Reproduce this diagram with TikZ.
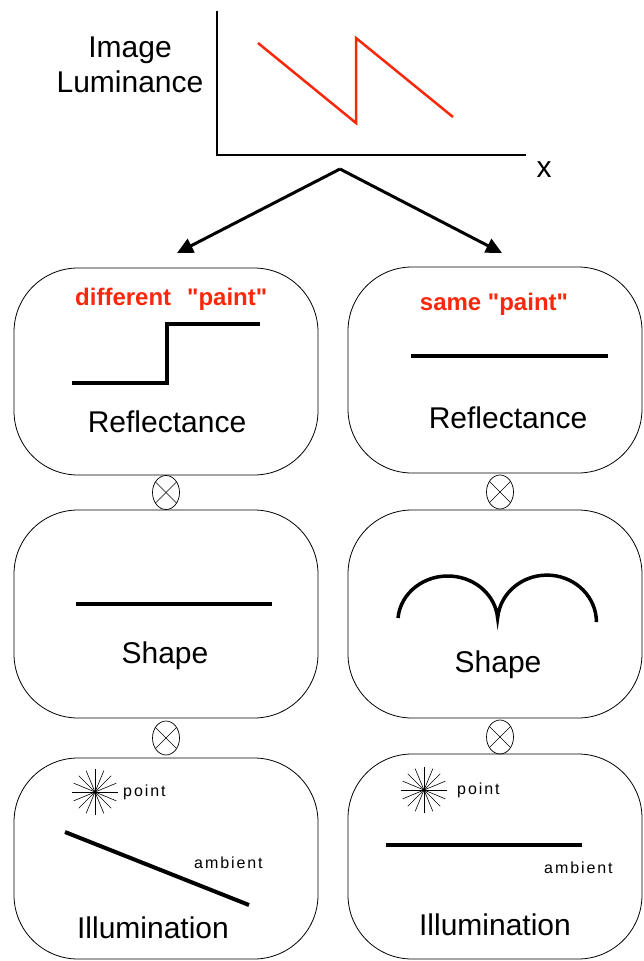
\documentclass[tikz,border=0pt]{standalone}
\usepackage{fontspec}
\setmainfont{Liberation Sans}
\newfontfamily\spacedfont[LetterSpace=12]{Liberation Sans}
\newfontfamily\redfont[Ligatures=TeXOff]{Liberation Sans}
\usetikzlibrary{shapes.geometric,arrows.meta}
\definecolor{paintred}{RGB}{250,40,10}
\begin{document}
\begin{tikzpicture}[x=1pt,y=-1pt,
  rbox/.style={draw, line width=0.8pt, rounded corners=64pt, inner sep=0pt},
  lbl/.style={font=\fontsize{30}{36}\selectfont, anchor=base, inner sep=0pt},
  redlbl/.style={font=\redfont\bfseries\fontsize{24}{28}\selectfont, text=paintred, anchor=base, inner sep=0pt},
  smalllbl/.style={font=\spacedfont\fontsize{16}{18}\selectfont, anchor=base west, inner sep=0pt},
  bar/.style={line width=4pt},
  otimesnode/.style={ellipse, draw, line width=0.7pt, minimum width=27pt, minimum height=34pt, inner sep=0pt},
  xline/.style={line width=0.6pt},
  splitarrow/.style={line width=3pt, -{Triangle[length=16pt,width=15pt]}},
  ray/.style={line width=0.6pt}]
\useasboundingbox (0,0) rectangle (644,961);

% --- luminance plot
\draw[line width=1.5pt] (217,11) -- (217,155) -- (526,155);
\draw[paintred, line width=2.5pt, line join=miter] (258,43) -- (356,123) -- (356,38) -- (453,117);
\node[lbl] (image) at (130,57) {Image};
\node[lbl] (lum) at (130,92) {Luminance};
\node[lbl] (xlab) at (544,177) {x};

% --- split arrows
\coordinate (apex) at (340,169);
\coordinate (tipL) at (177,253);
\coordinate (tipR) at (502,253);
\draw[splitarrow] (apex) -- (tipL);
\draw[splitarrow] (apex) -- (tipR);

% --- boxes
\node[rbox, minimum width=304pt, minimum height=207pt] (refL) at (166,371.5) {};
\node[rbox, minimum width=294pt, minimum height=206pt] (refR) at (495,370) {};
\node[rbox, minimum width=304pt, minimum height=208pt] (shpL) at (166,614) {};
\node[rbox, minimum width=294pt, minimum height=208pt] (shpR) at (495,614) {};
\node[rbox, minimum width=304pt, minimum height=201pt] (illL) at (166,858.5) {};
\node[rbox, minimum width=294pt, minimum height=205pt] (illR) at (495,856.5) {};

% --- otimes
\node[otimesnode] (oA) at (166,492.5) {};
\node[otimesnode] (oB) at (500,492) {};
\node[otimesnode] (oC) at (166,738) {};
\node[otimesnode] (oD) at (500,737) {};
\foreach \o in {oA,oB,oC,oD}{
  \draw[xline] (\o.45) -- (\o.225);
  \draw[xline] (\o.135) -- (\o.315);
}

% --- reflectance contents
\node[redlbl, anchor=base west] (diffpaint) at (75,305) {different\hspace{16pt}"paint"};
\node[redlbl] (samepaint) at (494,310) {same "paint"};
\draw[bar, line join=miter] (72,383) -- (167,383) -- (167,324) -- (260,324);
\draw[bar] (411,356) -- (608,356);
\node[lbl] (reflL) at (167,432) {Reflectance};
\node[lbl] (reflR) at (508,428) {Reflectance};

% --- shape contents
\draw[bar] (76,604) -- (272,604);
\draw[line width=3.5pt] (398,618) arc[start angle=185, end angle=355, x radius=50, y radius=46]
  arc[start angle=185, end angle=360, x radius=49.5, y radius=47];
\node[lbl] (shapeL) at (165,663) {Shape};
\node[lbl] (shapeR) at (498,672) {Shape};

% --- illumination contents
\coordinate (sunL) at (95,792);
\coordinate (sunR) at (424,790);
\foreach \s in {sunL,sunR}{
  \foreach \a in {0,22.5,...,157.5}{
    \draw[ray] ([shift={(\a:23)}]\s) -- ([shift={(\a+180:23)}]\s);
  }
}
\node[smalllbl] (pointL) at (123,796) {point};
\node[smalllbl] (pointR) at (457,794) {point};
\draw[bar] (65,832) -- (249,905);
\draw[bar] (386,845) -- (582,845);
\node[smalllbl] (ambL) at (194,868) {ambient};
\node[smalllbl] (ambR) at (544,873) {ambient};
\node[lbl] (illumL) at (153,938) {Illumination};
\node[lbl] (illumR) at (495,935) {Illumination};
\end{tikzpicture}
\end{document}
